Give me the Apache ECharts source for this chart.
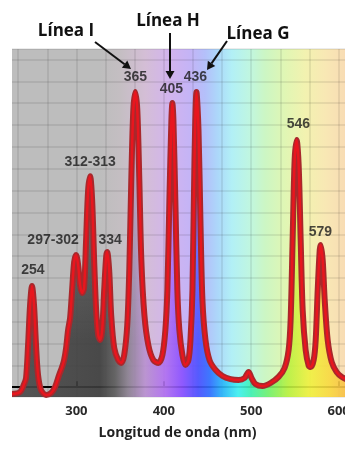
<!DOCTYPE html>
<html>
<head>
<meta charset="utf-8">
<script src="https://cdn.jsdelivr.net/npm/echarts@6/dist/echarts.min.js"></script>
<style>
  html, body { margin: 0; padding: 0; background: #fff; }
  #chart { width: 345px; height: 450px; }
</style>
</head>
<body>
<div id="chart"></div>
<script>
// espectro de la lámpara de mercurio (nm / intensidad relativa, 1 = una división)
var wavelength = [226.3, 235.5, 240.1, 242.4, 244.7, 247.0, 249.2, 251.5, 253.8, 256.1, 259.5, 265.3, 271.0, 275.6,
  280.2, 283.6, 285.9, 288.2, 290.5, 292.8, 295.1, 297.4, 299.7, 302.0, 304.2, 306.5, 308.8, 311.1, 313.4, 315.7,
  318.0, 320.3, 322.6, 324.9, 327.2, 329.5, 331.8, 334.1, 335.2, 337.5, 339.8, 343.3, 347.8, 351.3, 354.7, 358.2,
  360.5, 362.8, 365.1, 367.4, 369.7, 372.0, 374.3, 377.8, 382.3, 388.0, 393.8, 398.4, 401.8, 404.1, 406.4, 408.7,
  409.8, 411.0, 413.2, 415.5, 417.8, 421.3, 424.7, 428.2, 430.5, 432.8, 435.1, 437.4, 439.7, 441.9, 444.2, 447.7,
  452.3, 459.2, 467.2, 476.4, 485.5, 492.4, 497.0, 500.4, 505.0, 513.0, 522.2, 531.3, 538.2, 542.8, 545.1, 547.4,
  549.7, 552.0, 554.3, 556.6, 558.9, 562.3, 565.8, 568.1, 571.5, 573.8, 576.1, 578.4, 579.5, 581.8, 584.1, 587.5,
  592.1, 597.8, 603.6, 610.4];
var intensity = [-0.31, -0.22, 0.14, 0.42, 1.93, 3.76, 4.63, 3.76, 1.93, 0.56, -0.13, -0.36, -0.27, 0.01,
  0.56, 0.92, 1.24, 1.79, 2.62, 3.17, 4.45, 5.73, 6.05, 5.59, 4.68, 4.31, 4.54, 6.74, 9.02, 9.66,
  8.57, 5.82, 3.53, 2.39, 2.16, 2.62, 4.45, 6.00, 6.19, 5.36, 3.30, 1.79, 1.24, 1.11, 1.47, 2.85,
  5.36, 9.48, 12.68, 13.51, 12.68, 9.48, 5.82, 3.30, 1.93, 1.24, 1.11, 1.47, 2.62, 4.45, 8.57, 12.23,
  13.01, 12.23, 8.57, 4.45, 2.62, 1.47, 1.01, 1.24, 2.16, 4.45, 10.40, 13.51, 11.77, 7.65, 3.99, 2.16,
  1.24, 0.79, 0.51, 0.37, 0.33, 0.42, 0.69, 0.42, 0.14, 0.05, 0.19, 0.47, 0.88, 1.70, 3.07, 6.74,
  10.40, 11.31, 10.17, 6.74, 3.53, 1.70, 0.97, 0.92, 1.24, 2.16, 4.45, 6.28, 6.51, 5.82, 3.99, 2.16,
  1.15, 0.69, 0.47, 0.33];

// etiquetas de los picos
var peakLabels = ['254', '297-302', '312-313', '334', '365', '405', '436', '546', '579'];
var labelNm = [250.3, 273.3, 315.7, 338.6, 367.4, 408.7, 436.1, 553.9, 579.1];
var labelVal = [5.36, 6.74, 10.31, 6.74, 14.2, 13.65, 14.2, 12.04, 7.10];

var lineNames = ['Línea I', 'Línea H', 'Línea G'];
var xTitle = 'Longitud de onda (nm)';

var curve = [];
for (var i = 0; i < wavelength.length; i++) {
  curve.push([wavelength[i], intensity[i]]);
}
var peaks = [];
for (var i = 0; i < peakLabels.length; i++) {
  peaks.push({ name: peakLabels[i], value: [labelNm[i], labelVal[i]] });
}

var chart = echarts.init(document.getElementById('chart'), null, { renderer: 'canvas' });

// fondo pálido (encima de la curva)
var paleBg = new echarts.graphic.LinearGradient(12, 0, 345, 0, [
  { offset: 0, color: '#bdbdbd' },
  { offset: 0.264, color: '#bdbdbd' },
  { offset: 0.324, color: '#c4bec2' },
  { offset: 0.40, color: '#d4bed6' },
  { offset: 0.474, color: '#d2b4ee' },
  { offset: 0.535, color: '#c4b4f6' },
  { offset: 0.58, color: '#b4c0fa' },
  { offset: 0.619, color: '#acd8fa' },
  { offset: 0.66, color: '#b2f0f6' },
  { offset: 0.715, color: '#c0f6e0' },
  { offset: 0.76, color: '#ccf6c4' },
  { offset: 0.82, color: '#e0f6b4' },
  { offset: 0.88, color: '#f2f2b0' },
  { offset: 0.94, color: '#f8e8b4' },
  { offset: 1, color: '#f8dcb4' }
], true);

// relleno saturado (debajo de la curva)
var spectrumFill = new echarts.graphic.LinearGradient(12, 0, 345, 0, [
  { offset: 0, color: '#4a4a4a' },
  { offset: 0.264, color: '#3c3c3c' },
  { offset: 0.309, color: '#5a5a5a' },
  { offset: 0.348, color: '#8a8090' },
  { offset: 0.40, color: '#b890d0' },
  { offset: 0.459, color: '#b070f0' },
  { offset: 0.51, color: '#8a50ff' },
  { offset: 0.559, color: '#4a50ff' },
  { offset: 0.595, color: '#3070ff' },
  { offset: 0.63, color: '#28b0f8' },
  { offset: 0.679, color: '#40f0f0' },
  { offset: 0.72, color: '#40f0b0' },
  { offset: 0.769, color: '#70f070' },
  { offset: 0.829, color: '#b8f040' },
  { offset: 0.895, color: '#f0f040' },
  { offset: 0.955, color: '#f8d840' },
  { offset: 1, color: '#f8c048' }
], true);

var whiteFade = new echarts.graphic.LinearGradient(0, 90, 0, 340, [
  { offset: 0, color: 'rgba(255,255,255,0.45)' },
  { offset: 1, color: 'rgba(255,255,255,0)' }
], true);

function arrow(x1, y1, x2, y2) {
  var dx = x2 - x1, dy = y2 - y1;
  var len = Math.sqrt(dx * dx + dy * dy);
  var ux = dx / len, uy = dy / len;
  var bx = x2 - ux * 8, by = y2 - uy * 8;
  return [
    { type: 'line', z: 50, shape: { x1: x1, y1: y1, x2: bx, y2: by }, style: { stroke: '#111', lineWidth: 2 } },
    { type: 'polygon', z: 50, shape: { points: [[x2, y2], [bx - uy * 4.5, by + ux * 4.5], [bx + uy * 4.5, by - ux * 4.5]] },
      style: { fill: '#111' } }
  ];
}

var gridLineStyle = { color: 'rgba(0,0,0,0.1)', width: 1.5 };
var annFont = { fontFamily: 'Open Sans', fontWeight: 'bold', fontSize: 17, fill: '#111', textAlign: 'center', textVerticalAlign: 'middle' };

var graphics = [
  { type: 'rect', z: 100, shape: { x: 0, y: 0, width: 12, height: 450 }, style: { fill: '#fff' } },
  { type: 'text', z: 50, x: 66, y: 31, style: Object.assign({ text: lineNames[0] }, annFont) },
  { type: 'text', z: 50, x: 168, y: 21, style: Object.assign({ text: lineNames[1] }, annFont) },
  { type: 'text', z: 50, x: 258, y: 34, style: Object.assign({ text: lineNames[2] }, annFont) }
].concat(arrow(95, 42, 131, 69), arrow(170, 33, 170, 79), arrow(227, 41, 207, 70));

var option = {
  backgroundColor: '#fff',
  animation: false,
  grid: {
    left: -11,
    right: -81,
    top: 49,
    bottom: 53,
    outerBoundsMode: 'none',
    containLabel: false,
    show: true,
    backgroundColor: paleBg,
    borderWidth: 0
  },
  xAxis: {
    type: 'value',
    min: 200,
    max: 700,
    interval: 100,
    name: xTitle,
    nameLocation: 'middle',
    nameGap: 29,
    nameTextStyle: {
      fontFamily: 'Open Sans', fontWeight: 'bold', fontSize: 14, color: '#222',
      padding: [0, 60, 0, 0]
    },
    axisLine: { lineStyle: { color: '#000', width: 2 } },
    axisTick: { show: true, inside: true, length: 6, lineStyle: { color: '#000', width: 2 } },
    axisLabel: {
      showMinLabel: false, showMaxLabel: false, margin: 8,
      fontFamily: 'Open Sans', fontWeight: 'bold', fontSize: 13, color: '#2a2a2a'
    },
    splitLine: { show: true, lineStyle: gridLineStyle },
    minorTick: { show: false, splitNumber: 3 },
    minorSplitLine: { show: true, lineStyle: gridLineStyle }
  },
  yAxis: {
    type: 'value',
    min: -0.45,
    max: 15.48,
    splitNumber: 16,
    axisLine: { show: false },
    axisTick: { show: false },
    axisLabel: { show: false },
    splitLine: { show: true, lineStyle: gridLineStyle }
  },
  series: [
    {
      type: 'line', data: curve, smooth: 0.3, symbol: 'none', silent: true,
      lineStyle: { width: 0 },
      areaStyle: { color: spectrumFill, opacity: 0.9, origin: 'start' }
    },
    {
      type: 'line', data: curve, smooth: 0.3, symbol: 'none', silent: true,
      lineStyle: { width: 0 },
      areaStyle: { color: whiteFade, origin: 'start' }
    },
    {
      type: 'line', data: curve, smooth: 0.3, symbol: 'none', silent: true,
      lineStyle: { color: '#a8282c', width: 6, cap: 'round', join: 'round' }
    },
    {
      type: 'line', data: curve, smooth: 0.3, symbol: 'none', silent: true,
      lineStyle: { color: '#e8161e', width: 2.5, cap: 'round', join: 'round' }
    },
    {
      type: 'scatter', data: peaks, symbolSize: 0, silent: true, z: 5,
      label: {
        show: true, position: 'inside',
        formatter: function (p) { return p.name; },
        fontFamily: 'Liberation Sans', fontWeight: 'bold', fontSize: 14, color: '#1a1a1a'
      }
    }
  ],
  graphic: graphics
};

chart.setOption(option);
</script>
</body>
</html>
